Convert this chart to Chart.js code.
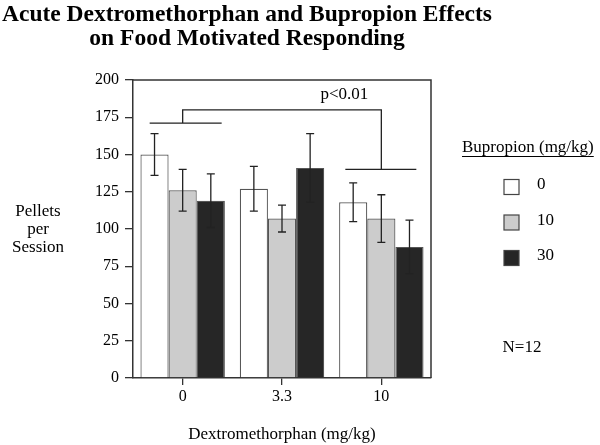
<!DOCTYPE html>
<html>
<head>
<meta charset="utf-8">
<script src="https://cdn.jsdelivr.net/npm/chart.js@4.4.0/dist/chart.umd.min.js"></script>
<style>
  html, body { margin: 0; padding: 0; background: #fff; }
  #wrap { width: 600px; height: 445px; position: relative; }
</style>
</head>
<body>
<div id="wrap"><canvas id="chart"></canvas></div>
<script>
// Dextromethorphan doses (x categories) and bupropion doses (series)
const doses = ['0', '3.3', '10'];
const bupLabels = ['0', '10', '30'];

// mean pellets per session
const bup0 = [150, 127, 118];
const bup10 = [126, 107, 107];
const bup30 = [119, 141, 88];

// SEM
const sem0 = [14, 15, 13];
const sem10 = [14, 9, 16];
const sem30 = [18, 23, 18];

const yTicks = [0, 25, 50, 75, 100, 125, 150, 175, 200];

// significance bracket levels (y values)
const sigLow = [171, 140];
const sigTop = 180;
const sigText = 'p<0.01';

const titleLines = ['Acute Dextromethorphan and Bupropion Effects', 'on Food Motivated Responding'];

const SERIF = "'Liberation Serif', 'Times New Roman', serif";

// two-line bold title, not squeezed into the plot width
const titlePlugin = {
    id: 'mainTitle',
    afterDraw(chart) {
        const { ctx } = chart;
        ctx.save();
        ctx.fillStyle = '#000';
        ctx.font = 'bold 23.5px ' + SERIF;
        ctx.textAlign = 'center';
        ctx.textBaseline = 'alphabetic';
        titleLines.forEach((t, i) => ctx.fillText(t, 247, 21 + i * 24));
        ctx.restore();
    }
};

// frame round the plot area
const framePlugin = {
    id: 'frame',
    afterDraw(chart) {
        const { ctx, chartArea: a } = chart;
        ctx.save();
        ctx.strokeStyle = '#333';
        ctx.lineWidth = 1.5;
        ctx.beginPath();
        ctx.moveTo(a.left, a.top);
        ctx.lineTo(a.right, a.top);
        ctx.lineTo(a.right, a.bottom);
        ctx.stroke();
        ctx.restore();
    }
};

// error bars, caps at both ends
const errorBarPlugin = {
    id: 'errorBars',
    afterDatasetsDraw(chart) {
        const { ctx } = chart;
        const y = chart.scales.y;
        ctx.save();
        ctx.strokeStyle = '#222';
        ctx.lineWidth = 1.3;
        chart.data.datasets.forEach((ds, i) => {
            const meta = chart.getDatasetMeta(i);
            meta.data.forEach((bar, j) => {
                const v = ds.data[j], e = ds.errors[j];
                const top = y.getPixelForValue(v + e);
                const bot = y.getPixelForValue(v - e);
                ctx.beginPath();
                ctx.moveTo(bar.x, top); ctx.lineTo(bar.x, bot);
                ctx.moveTo(bar.x - 4, top); ctx.lineTo(bar.x + 4, top);
                ctx.moveTo(bar.x - 4, bot); ctx.lineTo(bar.x + 4, bot);
                ctx.stroke();
            });
        });
        ctx.restore();
    }
};

// bracket between 0 and 10 mg/kg DM
const bracketPlugin = {
    id: 'bracket',
    afterDraw(chart) {
        const { ctx } = chart;
        const x = chart.scales.x, y = chart.scales.y;
        const x0 = x.getPixelForValue(0), x1 = x.getPixelForValue(2);
        const yL = y.getPixelForValue(sigLow[0]);
        const yR = y.getPixelForValue(sigLow[1]);
        const yT = y.getPixelForValue(sigTop);
        ctx.save();
        ctx.strokeStyle = '#222';
        ctx.lineWidth = 1.3;
        ctx.beginPath();
        ctx.moveTo(x0 - 33, yL); ctx.lineTo(x0 + 39, yL);
        ctx.moveTo(x0, yL); ctx.lineTo(x0, yT); ctx.lineTo(x1, yT); ctx.lineTo(x1, yR);
        ctx.moveTo(x1 - 36, yR); ctx.lineTo(x1 + 35, yR);
        ctx.stroke();
        ctx.fillStyle = '#000';
        ctx.font = '17px ' + SERIF;
        ctx.textAlign = 'center';
        ctx.textBaseline = 'middle';
        ctx.fillText(sigText, x1 - 37, y.getPixelForValue(190));
        ctx.restore();
    }
};

// y title, legend, N
const sidePlugin = {
    id: 'sideText',
    afterDraw(chart) {
        const { ctx } = chart;
        ctx.save();
        ctx.fillStyle = '#000';
        ctx.textAlign = 'center';
        ctx.textBaseline = 'middle';
        ctx.font = '17px ' + SERIF;
        ['Pellets', 'per', 'Session'].forEach((t, i) => ctx.fillText(t, 38, 212 + i * 18));

        ctx.textAlign = 'left';
        const head = 'Bupropion (mg/kg)';
        ctx.fillText(head, 462, 148);
        const w = ctx.measureText(head).width;
        ctx.fillRect(462, 156, w, 1);

        chart.data.datasets.forEach((ds, i) => {
            const cy = 187 + i * 35.5;
            ctx.fillStyle = ds.backgroundColor;
            ctx.fillRect(504, cy - 7.5, 15, 15);
            ctx.strokeStyle = '#444';
            ctx.lineWidth = 1.2;
            ctx.strokeRect(504, cy - 7.5, 15, 15);
            ctx.fillStyle = '#000';
            ctx.fillText(ds.label, 537, cy - 2);
        });
        ctx.textAlign = 'center';
        ctx.fillText('N=12', 522, 348);
        ctx.restore();
    }
};

function series(label, data, errors, color) {
    return {
        label, data, errors,
        backgroundColor: color,
        borderColor: '#555',
        borderWidth: 1.2,
        categoryPercentage: 0.85,
        barPercentage: 1.0
    };
}

new Chart(document.getElementById('chart'), {
    type: 'bar',
    data: {
        labels: doses,
        datasets: [
            series(bupLabels[0], bup0, sem0, '#ffffff'),
            series(bupLabels[1], bup10, sem10, '#cccccc'),
            series(bupLabels[2], bup30, sem30, '#262626')
        ]
    },
    options: {
        responsive: true,
        maintainAspectRatio: false,
        animation: false,
        layout: { padding: { left: 63, right: 169, top: 80, bottom: 0 } },
        scales: {
            x: {
                grid: { drawOnChartArea: false, tickLength: 7, color: '#333', lineWidth: 1.3, offset: false },
                border: { color: '#333', width: 1.5 },
                ticks: { color: '#000', padding: 2, font: { family: SERIF, size: 16 } },
                title: {
                    display: true,
                    text: 'Dextromethorphan (mg/kg)',
                    color: '#000',
                    font: { family: SERIF, size: 17 },
                    padding: { top: 0, bottom: 0 }
                },
                afterFit(s) { s.height = 67; }
            },
            y: {
                min: 0,
                max: 200,
                afterBuildTicks(s) { s.ticks = yTicks.map(v => ({ value: v })); },
                grid: { drawOnChartArea: false, tickLength: 8, color: '#333', lineWidth: 1.3 },
                border: { color: '#333', width: 1.5 },
                ticks: { color: '#000', padding: 6, font: { family: SERIF, size: 16 } },
                afterFit(s) { s.width = 70; }
            }
        },
        plugins: {
            legend: { display: false },
            tooltip: { enabled: false },
            title: { display: false }
        }
    },
    plugins: [titlePlugin, framePlugin, errorBarPlugin, bracketPlugin, sidePlugin]
});
</script>
</body>
</html>
